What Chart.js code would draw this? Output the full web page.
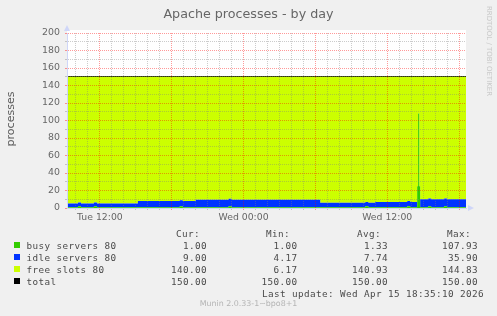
<!DOCTYPE html>
<html>
<head>
<meta charset="utf-8">
<title>Apache processes - by day</title>
<script src="https://cdn.jsdelivr.net/npm/chart.js@4.4.1/dist/chart.umd.min.js"></script>
<style>
  body { margin: 0; background: #f0f0f0; }
  #wrap { position: relative; width: 497px; height: 316px; overflow: hidden; font-family: "DejaVu Sans", sans-serif; color: #666; }
  #chart { position: absolute; left: 0; top: 0; }
  .txt { position: absolute; white-space: pre; }
  .mono { font-family: "DejaVu Sans Mono", monospace; font-size: 9.3px; letter-spacing: 0.4px; line-height: 12px; color: #4a4a4a; }
  .sw { position: absolute; width: 6px; height: 6px; }
</style>
</head>
<body>
<div id="wrap">
  <canvas id="chart" width="497" height="316"></canvas>
  <div class="txt" style="left:0; width:497px; text-align:center; top:5.6px; font-size:12.7px; line-height:15px;">Apache processes - by day</div>
  <div class="txt" style="left:-19px; top:112px; width:60px; height:14px; text-align:center; font-size:11px; line-height:14px; color:#5a5a5a; transform:rotate(-90deg);">processes</div>
  <div class="txt" style="left:439px; top:47px; width:100px; height:8px; text-align:center; font-size:7px; line-height:8px; color:#c8c8c8; transform:rotate(90deg);">RRDTOOL / TOBI OETIKER</div>
  <div id="legend"></div>
  <div class="txt" style="left:0; width:497px; text-align:center; top:299.3px; font-size:7.9px; line-height:10px; color:#b4b4b4;">Munin 2.0.33-1~bpo8+1</div>
</div>
<script>
// --- data (hours counted from Tue 00:00) ---
const hours = [9.25, 10.17, 10.42, 11.5, 11.75, 15.17, 18.67, 18.92, 20.0, 22.75, 23.0, 30.4, 34.17,
               34.42, 35.0, 37.67, 37.92, 38.5, 38.58, 38.67, 38.75, 39.42, 39.67, 40.75, 41.0, 42.58];
const busy = [1, 2, 1, 2, 1, 1, 2, 1, 1, 2, 1, 1, 2,
              1, 1, 2, 1, 25, 107.93, 25, 1, 2, 1, 2, 1, 1];
const idle = [4.17, 4.17, 4.17, 4.17, 4.17, 7, 7, 7, 8.5, 8.5, 8.5, 5, 5,
              5, 6, 6, 6, 0, 0, 0, 9, 9, 9, 9, 9, 9];
const free = [144.83, 143.83, 144.83, 143.83, 144.83, 142, 141, 142, 140.5, 139.5, 140.5, 144, 143,
              144, 143, 142, 143, 125, 42.07, 125, 140, 139, 140, 139, 140, 140];
const totalHours = [9.25, 42.58];
const total = [150, 150];

const tickHours = [12, 24, 36];
const tickLabels = ['Tue 12:00', 'Wed 00:00', 'Wed 12:00'];

// legend table
const legendNames = ['busy servers 80', 'idle servers 80', 'free slots 80', 'total'];
const legendColors = ['#33cc00', '#0033ff', '#ccff00', '#000000'];
const curVals = ['1.00', '9.00', '140.00', '150.00'];
const minVals = ['1.00', '4.17', '6.17', '150.00'];
const avgVals = ['1.33', '7.74', '140.93', '150.00'];
const maxVals = ['107.93', '35.90', '144.83', '150.00'];
const lastUpdate = 'Last update: Wed Apr 15 18:35:10 2026';

function points(xs, ys) {
    return xs.map((x, i) => ({ x: x, y: ys[i] }));
}

// --- legend (html text) ---
const legend = document.getElementById('legend');

function addText(text, baseline, opts) {
    const el = document.createElement('div');
    el.className = 'txt mono';
    el.textContent = text;
    el.style.top = (baseline - 9.2) + 'px';
    if (opts.right !== undefined) el.style.right = (497 - opts.right) + 'px';
    else el.style.left = opts.left + 'px';
    legend.appendChild(el);
}

addText('Cur:', 237.5, { right: 200 });
addText('Min:', 237.5, { right: 290 });
addText('Avg:', 237.5, { right: 381 });
addText('Max:', 237.5, { right: 471 });

legendNames.forEach((name, i) => {
    const base = 249 + i * 12;
    const sw = document.createElement('div');
    sw.className = 'sw';
    sw.style.left = '14px';
    sw.style.top = (base - 6.7) + 'px';
    sw.style.background = legendColors[i];
    legend.appendChild(sw);

    addText(name, base, { left: 26.5 });
    addText(curVals[i], base, { right: 207 });
    addText(minVals[i], base, { right: 297.5 });
    addText(avgVals[i], base, { right: 388 });
    addText(maxVals[i], base, { right: 478 });
});
addText(lastUpdate, 297, { right: 484 });

// --- plot background + axis arrows ---
const rrdFrame = {
    id: 'rrdFrame',
    beforeDraw(chart) {
        const { ctx, chartArea: a } = chart;
        ctx.save();
        ctx.fillStyle = '#ffffff';
        ctx.fillRect(a.left, a.top - 3, a.right - a.left, a.bottom - a.top + 3);
        ctx.restore();
    },
    afterDraw(chart) {
        const { ctx, chartArea: a } = chart;
        ctx.save();
        ctx.fillStyle = '#cfd6f8';
        ctx.beginPath();
        ctx.moveTo(a.left - 3, a.top - 2);
        ctx.lineTo(a.left + 3, a.top - 2);
        ctx.lineTo(a.left, a.top - 8);
        ctx.closePath();
        ctx.fill();
        ctx.beginPath();
        ctx.moveTo(a.right + 2, a.bottom - 3);
        ctx.lineTo(a.right + 2, a.bottom + 3);
        ctx.lineTo(a.right + 8, a.bottom);
        ctx.closePath();
        ctx.fill();
        ctx.restore();
    }
};

const majorGrid = 'rgba(255,0,0,0.4)';
const minorGrid = 'rgba(128,128,128,0.4)';

new Chart(document.getElementById('chart'), {
    type: 'line',
    data: {
        datasets: [
            {
                label: 'busy servers 80',
                data: points(hours, busy),
                backgroundColor: '#33cc00',
                borderWidth: 0,
                fill: 'origin'
            },
            {
                label: 'idle servers 80',
                data: points(hours, idle),
                backgroundColor: '#0033ff',
                borderWidth: 0,
                fill: '-1'
            },
            {
                label: 'free slots 80',
                data: points(hours, free),
                backgroundColor: '#ccff00',
                borderWidth: 0,
                fill: '-1'
            },
            {
                label: 'total',
                data: points(totalHours, total),
                borderColor: '#000000',
                borderWidth: 1.5,
                fill: false,
                stack: 'total'
            }
        ]
    },
    options: {
        responsive: false,
        animation: false,
        events: [],
        layout: { padding: { left: 0, top: 33, right: 31, bottom: 0 } },
        elements: {
            point: { radius: 0 },
            // chart.js 'before': hold the value until the next sample, like rrd steps
            line: { stepped: 'before', tension: 0 }
        },
        plugins: {
            legend: { display: false },
            tooltip: { enabled: false },
            title: { display: false }
        },
        scales: {
            x: {
                type: 'linear',
                min: 9.25,
                max: 42.58,
                afterFit(scale) { scale.height = 108; },
                afterBuildTicks(scale) {
                    const t = [];
                    for (let h = 10; h <= 42; h++) t.push({ value: h });
                    scale.ticks = t;
                },
                grid: {
                    z: 1,
                    color: ctx => (ctx.tick && ctx.tick.value % 6 === 0) ? majorGrid : minorGrid,
                    tickLength: 2,
                    lineWidth: 1
                },
                border: { z: 2, color: '#cfd6f8', width: 1, dash: [1, 1] },
                ticks: {
                    autoSkip: false,
                    maxRotation: 0,
                    padding: 2,
                    color: '#666',
                    font: { family: 'DejaVu Sans', size: 9.3 },
                    callback: v => {
                        const i = tickHours.indexOf(v);
                        return i >= 0 ? tickLabels[i] : '';
                    }
                }
            },
            y: {
                stacked: true,
                min: 0,
                max: 200,
                afterFit(scale) { scale.width = 67; },
                grid: {
                    z: 1,
                    color: ctx => (ctx.tick && ctx.tick.value % 20 === 0) ? majorGrid : minorGrid,
                    tickLength: 2,
                    lineWidth: 1
                },
                border: { z: 2, color: '#cfd6f8', width: 1, dash: [1, 1] },
                ticks: {
                    stepSize: 10,
                    autoSkip: false,
                    padding: 5,
                    color: '#666',
                    font: { family: 'DejaVu Sans', size: 9.4 },
                    callback: v => v % 20 === 0 ? String(v) : ''
                }
            }
        }
    },
    plugins: [rrdFrame]
});
</script>
</body>
</html>
